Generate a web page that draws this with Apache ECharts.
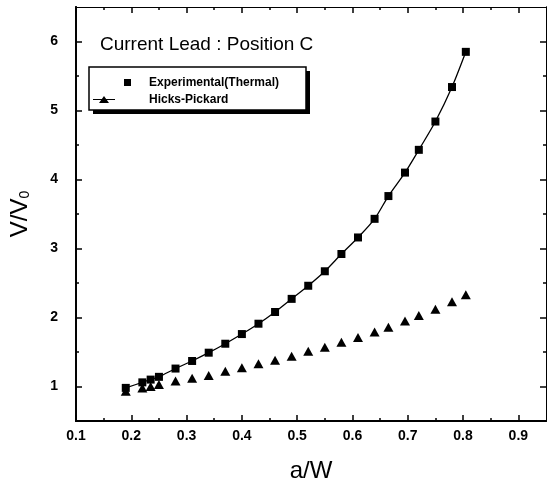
<!DOCTYPE html>
<html>
<head>
<meta charset="utf-8">
<script src="https://cdn.jsdelivr.net/npm/echarts@6/dist/echarts.min.js"></script>
<style>
  html, body { margin: 0; padding: 0; background: #fff; }
  #main { width: 547px; height: 488px; }
</style>
</head>
<body>
<div id="main"></div>
<script>
// a/W positions of the measured points
var aw = [0.19, 0.22, 0.235, 0.25, 0.28, 0.31, 0.34, 0.37, 0.40, 0.43, 0.46, 0.49,
          0.52, 0.55, 0.58, 0.61, 0.64, 0.665, 0.695, 0.72, 0.75, 0.78, 0.805];
// V/V0, experimental (thermal)
var expVals = [0.98, 1.06, 1.10, 1.14, 1.26, 1.37, 1.49, 1.62, 1.76, 1.91, 2.08, 2.27,
               2.46, 2.67, 2.92, 3.16, 3.43, 3.76, 4.10, 4.43, 4.84, 5.34, 5.85];
// V/V0, Hicks-Pickard
var hpVals = [0.93, 0.98, 1.00, 1.03, 1.08, 1.12, 1.16, 1.22, 1.27, 1.33, 1.38, 1.44,
              1.51, 1.57, 1.64, 1.71, 1.79, 1.86, 1.95, 2.03, 2.12, 2.23, 2.33];

var xMajor = [0.1, 0.2, 0.3, 0.4, 0.5, 0.6, 0.7, 0.8, 0.9];
var xMinor = [0.15, 0.25, 0.35, 0.45, 0.55, 0.65, 0.75, 0.85];
var yMajor = [1, 2, 3, 4, 5, 6];
var yMinor = [1.5, 2.5, 3.5, 4.5, 5.5];

function pairs(xs, ys) {
  return xs.map(function (x, i) { return [x, ys[i]]; });
}

var FONT = 'Arial, "Liberation Sans", sans-serif';

function xAx(pos, ticks, len, withLabels, lw) {
  return {
    type: 'value', position: pos, min: 0.1, max: 0.95,
    splitLine: { show: false },
    axisLine: { show: true, onZero: false, lineStyle: { color: '#000', width: lw } },
    axisTick: { show: true, inside: true, length: len, customValues: ticks,
                lineStyle: { color: '#000', width: 1.5 } },
    axisLabel: withLabels ? { show: true, customValues: xMajor, margin: 8,
                fontSize: 14, fontWeight: 'bold', color: '#000', fontFamily: FONT }
               : { show: false },
    name: withLabels ? 'a/W' : '',
    nameLocation: 'middle', nameGap: 38,
    nameTextStyle: { fontSize: 24, color: '#000', fontFamily: FONT }
  };
}

function yAx(pos, ticks, len, withLabels, lw) {
  return {
    type: 'value', position: pos, min: 0.5, max: 6.5,
    splitLine: { show: false },
    axisLine: { show: true, onZero: false, lineStyle: { color: '#000', width: lw } },
    axisTick: { show: true, inside: true, length: len, customValues: ticks,
                lineStyle: { color: '#000', width: 1.5 } },
    axisLabel: withLabels ? { show: true, customValues: yMajor, margin: 18,
                fontSize: 14, fontWeight: 'bold', color: '#000', fontFamily: FONT }
               : { show: false },
    name: withLabels ? 'V/V{s|0}' : '',
    nameLocation: 'middle', nameGap: 44, nameRotate: 90,
    nameTextStyle: { fontSize: 24, color: '#000', fontFamily: FONT,
                     rich: { s: { fontSize: 14, fontFamily: FONT, color: '#000', padding: [10, 0, 0, 0] } } }
  };
}

var myChart = echarts.init(document.getElementById('main'));

var option = {
  backgroundColor: '#fff',
  animation: false,
  title: {
    text: 'Current Lead : Position C',
    left: 100, top: 35, padding: 0,
    textStyle: { fontSize: 19, fontWeight: 'normal', color: '#000', fontFamily: FONT }
  },
  // legend frame with its drop shadow
  graphic: [
    { type: 'rect', z: 1, shape: { x: 93, y: 71, width: 217, height: 43 },
      style: { fill: '#000' } },
    { type: 'rect', z: 2, shape: { x: 89, y: 67, width: 217, height: 43 },
      style: { fill: '#fff', stroke: '#000', lineWidth: 1.5 } }
  ],
  legend: {
    orient: 'vertical',
    left: 89, top: 67,
    padding: [9, 10, 5, 4],
    itemGap: 4,
    itemWidth: 51, itemHeight: 10,
    z: 10,
    textStyle: { fontSize: 12, fontWeight: 'bold', color: '#000', fontFamily: FONT, lineHeight: 13 },
    data: [
      { name: 'Experimental(Thermal)',
        icon: 'path://M0,0L0,0M51,10L51,10M31,1.5L38,1.5L38,8.5L31,8.5Z' },
      { name: 'Hicks-Pickard',
        icon: 'path://M0,0L0,0M51,10L51,10M0,4.5L22,4.5L22,5.5L0,5.5ZM6,8.5L11,1.5L16,8.5Z' }
    ]
  },
  grid: { left: 74, right: 1, top: 7, bottom: 64 },
  xAxis: [
    xAx('bottom', xMajor, 6, true, 1.8),
    xAx('bottom', xMinor, 3, false, 1.8),
    xAx('top', xMajor, 6, false, 1),
    xAx('top', xMinor, 3, false, 1)
  ],
  yAxis: [
    yAx('left', yMajor, 6, true, 1.8),
    yAx('left', yMinor, 3, false, 1.8),
    yAx('right', yMajor, 6, false, 1),
    yAx('right', yMinor, 3, false, 1)
  ],
  series: [
    {
      name: 'Experimental(Thermal)',
      type: 'line',
      smooth: 0.3,
      data: pairs(aw, expVals),
      symbol: 'rect', symbolSize: 8,
      itemStyle: { color: '#000' },
      lineStyle: { color: '#000', width: 1.3 },
      z: 3
    },
    {
      name: 'Hicks-Pickard',
      type: 'scatter',
      data: pairs(aw, hpVals),
      symbol: 'triangle', symbolSize: [10, 9],
      itemStyle: { color: '#000', opacity: 1 },
      z: 2
    }
  ]
};

myChart.setOption(option);
</script>
</body>
</html>
